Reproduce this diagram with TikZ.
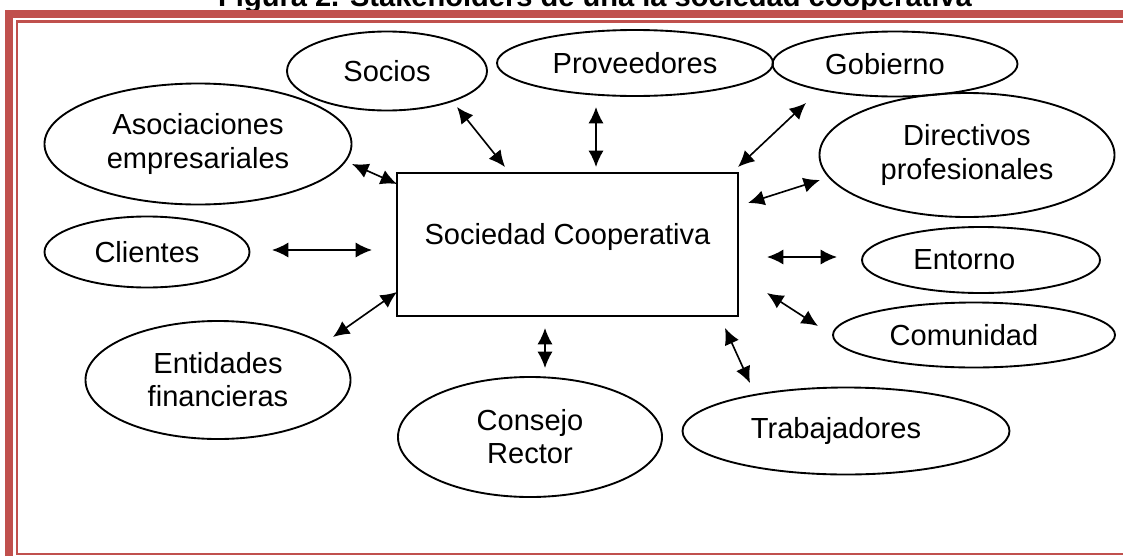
\documentclass[tikz,border=0pt]{standalone}
\usepackage{fontspec}
\setmainfont{Liberation Sans}
\usepackage{tikz}
\tikzset{>=latex}
\usetikzlibrary{arrows.meta,shapes.geometric,positioning}

\definecolor{framered}{RGB}{192,80,77}
\newcommand{\stakefont}{\fontsize{24.8pt}{28.2pt}\selectfont}
\tikzset{
  every node/.style={font=\stakefont},
  stake/.style={draw, ellipse, line width=1.6pt, inner sep=0pt, align=center},
  link/.style={{Latex[length=14pt,width=13pt]}-{Latex[length=14pt,width=13pt]}, line width=1.4pt},
}

\begin{document}
\begin{tikzpicture}[x=0.03cm,y=-0.03cm]
\useasboundingbox (0,0) rectangle (1123,556);

% title, cut by the page top
\node[font=\stakefont\bfseries, anchor=base] (title) at (595,6) {Figura 2. Stakeholders de una la sociedad cooperativa};

% page border
\draw[framered, line width=0.24cm] (9,556) -- (9,14) -- (1123,14);
\draw[framered, line width=0.07cm] (1123,21.5) -- (17,21.5) -- (17,554) -- (1123,554);

% centre box
\node[draw, line width=1.6pt, minimum width=10.23cm, minimum height=4.29cm, text height=0.4cm, text depth=0.4cm] (coop) at (567.5,244.5) {Sociedad Cooperativa};

% stakeholders
\node[stake, minimum width=6cm, minimum height=2.37cm] (socios) at (387,71) {Socios};
\node[stake, minimum width=8.28cm, minimum height=1.98cm] (prov) at (635,63) {Proveedores};
\node[stake, minimum width=7.35cm, minimum height=1.95cm] (gob) at (895,64) {Gobierno\hspace*{0.6cm}};
\node[stake, minimum width=9.21cm, minimum height=3.63cm] (asoc) at (198,144) {Asociaciones\\empresariales};
\node[stake, minimum width=8.85cm, minimum height=3.72cm] (dir) at (967,155) {Directivos\\profesionales};
\node[stake, minimum width=6.15cm, minimum height=2.13cm] (cli) at (147,252) {Clientes};
\node[stake, minimum width=7.14cm, minimum height=1.98cm] (ento) at (981,260) {Entorno\hspace*{1cm}};
\node[stake, minimum width=8.46cm, minimum height=1.95cm] (comu) at (974,335) {Comunidad\hspace*{0.6cm}};
\node[stake, minimum width=7.95cm, minimum height=3.54cm] (enti) at (218,380) {Entidades\\financieras};
\node[stake, minimum width=7.92cm, minimum height=3.6cm] (cons) at (530,437) {Consejo\\Rector};
\node[stake, minimum width=9.81cm, minimum height=2.61cm] (trab) at (846,431) {Trabajadores\hspace*{0.6cm}};

% arrow ends
\coordinate (asoc-a) at (352,164);  \coordinate (asoc-b) at (397,184);
\coordinate (socios-a) at (457,107); \coordinate (socios-b) at (505,167);
\coordinate (prov-a) at (596,107);  \coordinate (prov-b) at (596,167);
\coordinate (gob-a) at (806,103);   \coordinate (gob-b) at (738,167);
\coordinate (dir-a) at (820,180);   \coordinate (dir-b) at (748,203);
\coordinate (ento-a) at (837,257);  \coordinate (ento-b) at (767,257);
\coordinate (comu-a) at (818,326);  \coordinate (comu-b) at (767,293);
\coordinate (trab-a) at (750,383);  \coordinate (trab-b) at (725,328);
\coordinate (cons-a) at (545,368);  \coordinate (cons-b) at (545,328);
\coordinate (enti-a) at (333,337);  \coordinate (enti-b) at (397,292);
\coordinate (cli-a) at (272,250);   \coordinate (cli-b) at (372,250);

\draw[link] (asoc-a) -- (asoc-b);
\draw[link] (socios-a) -- (socios-b);
\draw[link] (prov-a) -- (prov-b);
\draw[link] (gob-a) -- (gob-b);
\draw[link] (dir-a) -- (dir-b);
\draw[link] (ento-a) -- (ento-b);
\draw[link] (comu-a) -- (comu-b);
\draw[link] (trab-a) -- (trab-b);
\draw[link] (cons-a) -- (cons-b);
\draw[link] (enti-a) -- (enti-b);
\draw[link] (cli-a) -- (cli-b);
\end{tikzpicture}
\end{document}
